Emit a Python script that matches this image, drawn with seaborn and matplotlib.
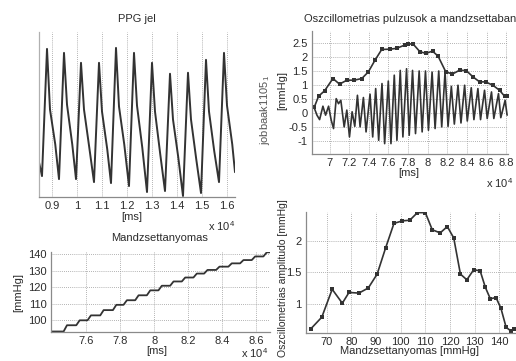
import matplotlib
matplotlib.use("Agg")
import matplotlib.pyplot as plt
import seaborn as sns
from matplotlib.ticker import FuncFormatter

# PPG jel (top left), beat key points
ppg_start = (8480, 37)
ppg_end = (16320, 27)
ppg_trough_ms = [8600, 9280, 9960, 10680, 11360, 12080, 12800, 13520, 14240, 14960, 15680]
ppg_trough = [23, 20, 20, 17, 16, 13, 7, 8, 3, 6, 17]
ppg_peak_ms = [8800, 9480, 10160, 10880, 11560, 12280, 13000, 13720, 14440, 15160, 15880]
ppg_peak = [151, 147, 137, 137, 152, 147, 137, 126, 127, 140, 147]
ppg_knee_ms = [8920, 9600, 10280, 11000, 11680, 12400, 13120, 13840, 14560, 15280, 16000]
ppg_knee = [90, 95, 90, 88, 93, 94, 88, 80, 80, 88, 94]
ppg_mid_ms = [9130, 9810, 10490, 11210, 11890, 12610, 13330, 14050, 14770, 15490, 16210]
ppg_mid = [55, 55, 52, 50, 55, 52, 45, 42, 40, 48, 55]

# Oszcillometrias pulzusok (top right)
osc_ms = [68376, 68714, 68985, 69323, 69594, 69899, 70169, 70406, 70677, 70913,
          71150, 71489, 71759, 72030, 72300, 72571, 72842, 73112, 73451, 73721,
          74127, 74398, 74702, 75007, 75345, 75616, 75988, 76259, 76597, 76867,
          77206, 77476, 77849, 78119, 78458, 78762, 79134, 79438, 79777, 80081,
          80453, 80758, 81130, 81434, 81773, 82077, 82415, 82720, 83092, 83396,
          83768, 84039, 84445, 84716, 85122, 85392, 85798, 86069, 86509, 86746,
          87220, 87456, 87896, 88099]
osc_mmHg = [0.24, -0.08, -0.24, 0.24, -0.08, 0.24, -0.26, -0.56, 0.51, 0.33,
            0.45, -0.50, 0.10, -0.86, 0.04, -0.48, 0.63, -0.50, 0.55, -0.68,
            0.67, -0.86, 0.87, -0.98, 1.05, -1.10, 1.14, -1.10, 1.35, -0.98,
            1.52, -0.86, 1.58, -0.80, 1.52, -0.74, 1.50, -0.68, 1.50, -0.62,
            1.46, -0.56, 1.50, -0.50, 1.46, -0.48, 0.95, -0.40, 0.99, -0.36,
            0.99, -0.29, 0.90, -0.24, 0.87, -0.24, 0.81, -0.20, 0.75, -0.20,
            0.69, -0.17, 0.45, -0.08]
env_ms = [68447, 68884, 69492, 70345, 71015, 71766, 72507, 73289, 73959, 74639,
          75319, 76161, 76841, 77684, 78019, 78526, 79206, 79815, 80495, 81064,
          81845, 82525, 83266, 83946, 84616, 85296, 85905, 86646, 87326, 87834,
          88169]
env_mmHg = [0.21, 0.60, 0.79, 1.23, 1.03, 1.17, 1.17, 1.23, 1.47, 1.89,
            2.27, 2.28, 2.31, 2.43, 2.47, 2.46, 2.19, 2.13, 2.21, 2.03,
            1.47, 1.39, 1.53, 1.51, 1.29, 1.11, 1.11, 0.99, 0.81, 0.60,
            0.60]

# Mandzsettanyomas (bottom left): step times and plateau levels
cuff_start_ms = 73924
cuff_end_ms = 86820
cuff_step_ms = [74665, 75412, 76076, 76824, 77570, 78194, 78882, 79569, 80251,
                80940, 81627, 82311, 82940, 83646, 84369, 85058, 85745, 86430]
cuff_level = [93.2, 97.0, 100.0, 103.0, 106.2, 109.4, 112.2, 115.2, 118.2, 121.0,
              123.6, 126.0, 128.4, 130.6, 132.6, 134.6, 136.6, 138.8, 141.3]

# Oszcillometrias amplitudo vs cuff pressure (bottom right)
amp_cuff = [63.75, 68.1, 72.3, 76.4, 79.1, 83.1, 86.9, 90.5, 93.9, 97.3,
            100.7, 103.7, 106.8, 110.0, 112.8, 116.0, 118.9, 121.5, 124.2, 126.8,
            129.6, 132.2, 134.3, 136.3, 138.6, 140.6, 142.7, 144.7, 146.0]
amp_mmHg = [0.61, 0.79, 1.23, 1.01, 1.18, 1.17, 1.25, 1.47, 1.88, 2.27,
            2.31, 2.32, 2.44, 2.44, 2.17, 2.12, 2.22, 2.04, 1.47, 1.38,
            1.54, 1.52, 1.26, 1.08, 1.10, 0.93, 0.63, 0.57, 0.60]

sns.set_theme(style="white")
plt.rcParams["font.family"] = ["Liberation Sans", "DejaVu Sans"]
plt.rcParams["font.size"] = 8
plt.rcParams["mathtext.fontset"] = "custom"
plt.rcParams["mathtext.rm"] = "Liberation Sans"

W, H = 516, 361
TXT = "#2b2b2b"
LINE = "#333333"
fig = plt.figure(figsize=(W / 100, H / 100), dpi=100)
fig.patch.set_facecolor("white")


def box(l, t, r, b):
    return fig.add_axes([l / W, 1 - b / H, (r - l) / W, (b - t) / H])


def ftext(x, y, s, **kw):
    fig.text(x / W, 1 - y / H, s, ha="center", va="center", color=TXT, **kw)


def style(ax, xgrid=True, ygrid=True):
    for s in ["top", "right"]:
        ax.spines[s].set_visible(False)
    for s in ["left", "bottom"]:
        ax.spines[s].set_color("#8a8a8a")
        ax.spines[s].set_linewidth(0.9)
    ax.tick_params(direction="in", length=2, width=0.6, colors="#8a8a8a",
                   labelcolor=TXT, labelsize=8, pad=3)
    if xgrid:
        ax.xaxis.grid(True, linestyle=(0, (1, 1.5)), color="#9a9a9a", lw=0.6)
    if ygrid:
        ax.yaxis.grid(True, linestyle=(0, (1, 1.5)), color="#9a9a9a", lw=0.6)
    ax.set_axisbelow(True)
    ax.set_xlabel("")
    ax.set_ylabel("")


e4 = FuncFormatter(lambda v, p: "%g" % round(v / 1e4, 2))

# PPG jel
ppg_x = [ppg_start[0]]
ppg_y = [ppg_start[1]]
for i in range(len(ppg_peak_ms)):
    ppg_x += [ppg_trough_ms[i], ppg_peak_ms[i], ppg_knee_ms[i], ppg_mid_ms[i]]
    ppg_y += [ppg_trough[i], ppg_peak[i], ppg_knee[i], ppg_mid[i]]
ppg_x.append(ppg_end[0])
ppg_y.append(ppg_end[1])

ax1 = box(39, 32, 235, 197)
sns.lineplot(x=ppg_x, y=ppg_y, ax=ax1, color=LINE, lw=1.4, sort=False, estimator=None)
ax1.set_xlim(8480, 16320)
ax1.set_ylim(2, 168)
ax1.set_xticks(range(9000, 16001, 1000))
ax1.xaxis.set_major_formatter(e4)
ax1.set_yticks([])
style(ax1, ygrid=False)
ax1.spines["left"].set_color("#b0b0b0")
ftext(137, 19, "PPG jel")
ftext(132, 217, "[ms]")
ftext(222, 226, "x 10$^4$")

# Oszcillometrias pulzusok a mandzsettaban
ax2 = box(312, 31, 508, 154)
sns.lineplot(x=osc_ms, y=osc_mmHg, ax=ax2, color=LINE, lw=1.2, sort=False, estimator=None)
sns.lineplot(x=env_ms, y=env_mmHg, ax=ax2, color=LINE, lw=1.2, marker="s",
             markersize=2.2, markeredgewidth=0, sort=False, estimator=None)
ax2.set_xlim(68210, 88190)
ax2.set_ylim(-1.47, 2.93)
ax2.set_xticks(range(70000, 88001, 2000))
ax2.xaxis.set_major_formatter(e4)
ax2.set_yticks([-1, -0.5, 0, 0.5, 1, 1.5, 2, 2.5])
ax2.yaxis.set_major_formatter(FuncFormatter(lambda v, p: "%g" % v))
style(ax2)
ftext(410, 19, "Oszcillometrias pulzusok a mandzsettaban")
ftext(409, 173, "[ms]")
ftext(500, 183, "x 10$^4$")
ftext(282, 91, "[mmHg]", rotation=90)
ftext(265, 110, "jobbaak1105$_1$", rotation=90, alpha=0.8)

# Mandzsettanyomas
cuff_x = [cuff_start_ms]
cuff_y = [cuff_level[0]]
for t, lo, hi in zip(cuff_step_ms, cuff_level[:-1], cuff_level[1:]):
    cuff_x += [t, t + 200]
    cuff_y += [lo, hi]
cuff_x.append(cuff_end_ms)
cuff_y.append(cuff_level[-1])

ax3 = box(51, 252, 270, 332)
sns.lineplot(x=cuff_x, y=cuff_y, ax=ax3, color=LINE, lw=1.3, sort=False, estimator=None)
ax3.set_xlim(73924, 86820)
ax3.set_ylim(92.9, 141.5)
ax3.set_xticks(range(76000, 86001, 2000))
ax3.xaxis.set_major_formatter(e4)
ax3.set_yticks([100, 110, 120, 130, 140])
style(ax3)
ftext(160, 238, "Mandzsettanyomas")
ftext(157, 351, "[ms]")
ftext(255, 353, "x 10$^4$")
ftext(18, 293, "[mmHg]", rotation=90)

# Oszcillometrias amplitudo
ax4 = box(306, 212, 516, 333)
sns.lineplot(x=amp_cuff, y=amp_mmHg, ax=ax4, color=LINE, lw=1.2, marker="s",
             markersize=2.2, markeredgewidth=0, sort=False, estimator=None)
ax4.set_xlim(61.7, 146.7)
ax4.set_ylim(0.54, 2.45)
ax4.set_xticks(range(70, 141, 10))
ax4.set_yticks([1, 1.5, 2])
ax4.yaxis.set_major_formatter(FuncFormatter(lambda v, p: "%g" % v))
style(ax4)
ftext(410, 351, "Mandzsettanyomas [mmHg]")
ftext(283, 278, "Oszcillometrias amplitudo [mmHg]", rotation=90, fontsize=7.5)

fig.savefig("out.png", dpi=100, facecolor="white")
